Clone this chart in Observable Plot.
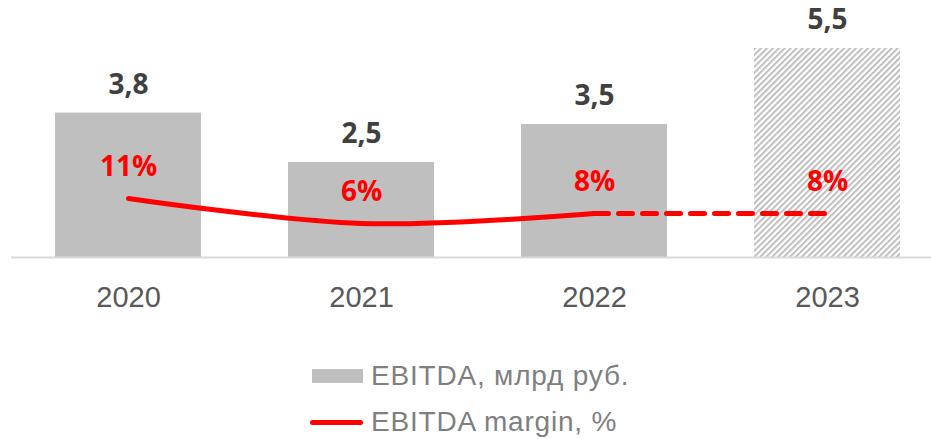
<!DOCTYPE html>
<html>
<head>
<meta charset="utf-8">
<script src="https://cdn.jsdelivr.net/npm/d3@7"></script>
<script src="https://cdn.jsdelivr.net/npm/@observablehq/plot@0.6"></script>
<style>
  html, body { margin: 0; padding: 0; background: #fff; }
  #chart { position: relative; width: 931px; height: 439px; overflow: hidden; }
  #chart svg { position: absolute; left: 0; top: 0; }
  .legend { position: absolute; left: 0; top: 0; width: 931px; height: 439px; font-family: "Liberation Sans", Arial, sans-serif; font-size: 28px; letter-spacing: 0.8px; color: #7f7f7f; white-space: nowrap; }
  .legend .item { position: absolute; display: flex; align-items: center; height: 30px; }
  .sw-bar { width: 51px; height: 14px; background: #bfbfbf; margin-right: 8px; }
  .sw-line { width: 53px; height: 5px; background: #ff0000; border-radius: 3px; margin-right: 8px; }
</style>
</head>
<body>
<div id="chart"></div>
<script>
// Data
const years = ["2020", "2021", "2022", "2023"];
const ebitda = [3.8, 2.5, 3.5, 5.5];           // млрд руб.
const margin = [11, 6, 8, 8];                  // %
const forecast = [false, false, false, true];  // 2023 is a plan (hatched)
const legendLabels = ["EBITDA, млрд руб.", "EBITDA margin, %"];

const rows = years.map((y, i) => ({year: y, value: ebitda[i], margin: margin[i], forecast: forecast[i]}));
// margin drawn on a secondary axis mapped into the bar scale
const m2y = v => 0.105 + v * 0.1316;
const solidLine = rows.filter(d => !d.forecast);
const dashedLine = rows.slice(rows.findIndex(d => d.forecast) - 1);

const plot = Plot.plot({
  width: 931,
  height: 340,
  marginLeft: 11,
  marginRight: 0,
  marginTop: 0,
  marginBottom: 83,
  x: {domain: years, range: [11, 944.3], paddingInner: 0.373, paddingOuter: 0.1865, axis: null},
  y: {domain: [0, 5.5], range: [257, 48], axis: null},
  style: {fontFamily: "'Liberation Sans', Arial, sans-serif", background: "transparent"},
  marks: [
    Plot.barY(rows.filter(d => !d.forecast), {x: "year", y: "value", fill: "#bfbfbf"}),
    Plot.barY(rows.filter(d => d.forecast), {x: "year", y: "value", fill: "url(#hatch23)"}),
    Plot.ruleY([0], {stroke: "#d9d9d9", strokeWidth: 2}),
    Plot.line(solidLine, {x: "year", y: d => m2y(d.margin), stroke: "#ff0000", strokeWidth: 5, curve: "catmull-rom", strokeLinecap: "round"}),
    Plot.line(dashedLine, {x: "year", y: d => m2y(d.margin), stroke: "#ff0000", strokeWidth: 5, strokeDasharray: "14,10", strokeLinecap: "round"}),
    Plot.text(rows, {x: "year", y: "value", text: d => d.value.toFixed(1).replace(".", ","), dy: -28, fontSize: 28, fontWeight: "bold", fill: "#404040", fontFamily: "'Open Sans', sans-serif", letterSpacing: 1}),
    Plot.text(rows, {x: "year", y: d => m2y(d.margin), text: d => d.margin + "%", dy: -31, fontSize: 28, fontWeight: "bold", fill: "#ff0000", fontFamily: "'Open Sans', sans-serif"}),
    Plot.text(rows, {x: "year", y: 0, text: "year", dy: 40, fontSize: 29, fill: "#595959"})
  ]
});

// hatch pattern for the forecast bar
const svg = d3.select(plot);
const defs = svg.insert("defs", ":first-child");
const pat = defs.append("pattern")
  .attr("id", "hatch23")
  .attr("patternUnits", "userSpaceOnUse")
  .attr("width", 4.2).attr("height", 4.2)
  .attr("patternTransform", "rotate(45)");
pat.append("rect").attr("width", 4.2).attr("height", 4.2).attr("fill", "#ffffff");
pat.append("rect").attr("x", 0).attr("width", 2).attr("height", 4.2).attr("fill", "#bfbfbf");

const chart = document.getElementById("chart");
chart.appendChild(plot);

const legend = document.createElement("div");
legend.className = "legend";
legend.innerHTML = `
  <div class="item" style="left:312px; top:361px;"><div class="sw-bar"></div><span>${legendLabels[0]}</span></div>
  <div class="item" style="left:310px; top:407px;"><div class="sw-line"></div><span>${legendLabels[1]}</span></div>`;
chart.appendChild(legend);
</script>
</body>
</html>
